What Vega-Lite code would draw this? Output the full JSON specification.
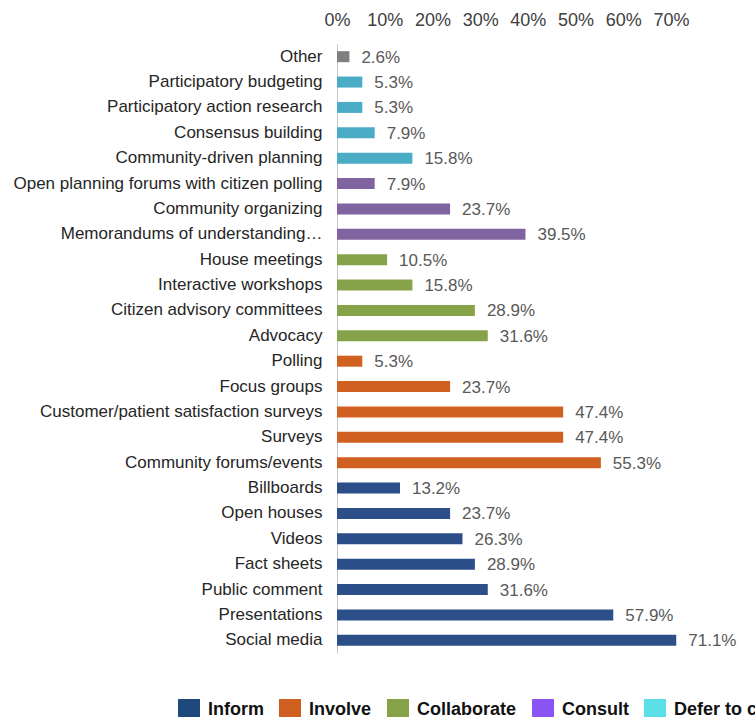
{
  "$schema": "https://vega.github.io/schema/vega-lite/v6.json",
  "width": 334,
  "height": 609,
  "autosize": {"type": "none"},
  "padding": {"left": 337, "top": 44, "right": 84, "bottom": 64},
  "background": "white",
  "config": {
    "view": {"stroke": null},
    "font": "Liberation Sans"
  },
  "data": {
    "values": [
      {"item": "Other", "value": 0.026, "group": "Other"},
      {"item": "Participatory budgeting", "value": 0.053, "group": "Defer to community"},
      {"item": "Participatory action research", "value": 0.053, "group": "Defer to community"},
      {"item": "Consensus building", "value": 0.079, "group": "Defer to community"},
      {"item": "Community-driven planning", "value": 0.158, "group": "Defer to community"},
      {"item": "Open planning forums with citizen polling", "value": 0.079, "group": "Consult"},
      {"item": "Community organizing", "value": 0.237, "group": "Consult"},
      {"item": "Memorandums of understanding…", "value": 0.395, "group": "Consult"},
      {"item": "House meetings", "value": 0.105, "group": "Collaborate"},
      {"item": "Interactive workshops", "value": 0.158, "group": "Collaborate"},
      {"item": "Citizen advisory committees", "value": 0.289, "group": "Collaborate"},
      {"item": "Advocacy", "value": 0.316, "group": "Collaborate"},
      {"item": "Polling", "value": 0.053, "group": "Involve"},
      {"item": "Focus groups", "value": 0.237, "group": "Involve"},
      {"item": "Customer/patient satisfaction surveys", "value": 0.474, "group": "Involve"},
      {"item": "Surveys", "value": 0.474, "group": "Involve"},
      {"item": "Community forums/events", "value": 0.553, "group": "Involve"},
      {"item": "Billboards", "value": 0.132, "group": "Inform"},
      {"item": "Open houses", "value": 0.237, "group": "Inform"},
      {"item": "Videos", "value": 0.263, "group": "Inform"},
      {"item": "Fact sheets", "value": 0.289, "group": "Inform"},
      {"item": "Public comment", "value": 0.316, "group": "Inform"},
      {"item": "Presentations", "value": 0.579, "group": "Inform"},
      {"item": "Social media", "value": 0.711, "group": "Inform"}
    ]
  },
  "encoding": {
    "y": {
      "field": "item",
      "type": "nominal",
      "sort": null,
      "title": null,
      "axis": {
        "ticks": false,
        "tickSize": 0,
        "labelPadding": 15,
        "labelFontSize": 17,
        "labelColor": "#262626",
        "labelLimit": 340,
        "domainColor": "#c8c8c8",
        "domainWidth": 1,
        "grid": false
      }
    },
    "x": {
      "field": "value",
      "type": "quantitative",
      "scale": {"domain": [0, 0.7], "nice": false},
      "title": null,
      "axis": {
        "orient": "top",
        "format": ".0%",
        "values": [0, 0.1, 0.2, 0.3, 0.4, 0.5, 0.6, 0.7],
        "ticks": false,
        "tickSize": 0,
        "domain": false,
        "grid": false,
        "labelPadding": 15,
        "labelFontSize": 18,
        "labelColor": "#404040",
        "labelFlush": false,
        "labelOverlap": false
      }
    }
  },
  "layer": [
    {
      "mark": {"type": "bar", "size": 11},
      "encoding": {
        "color": {
          "field": "group",
          "type": "nominal",
          "scale": {
            "domain": ["Inform", "Involve", "Collaborate", "Consult", "Defer to community", "Other"],
            "range": ["#2c4f8a", "#d0601f", "#86a34a", "#8064a2", "#4bacc6", "#7f7f7f"]
          },
          "legend": null
        }
      }
    },
    {
      "mark": {"type": "text", "align": "left", "baseline": "middle", "dx": 12, "dy": 1, "fontSize": 17, "color": "#595959"},
      "encoding": {
        "text": {"field": "value", "type": "quantitative", "format": ".1%"}
      }
    },
    {
      "mark": {"type": "square", "opacity": 0},
      "encoding": {
        "color": {
          "field": "group",
          "type": "nominal",
          "scale": {
            "domain": ["Inform", "Involve", "Collaborate", "Consult", "Defer to community"],
            "range": ["#1f497d", "#d0601f", "#86a34a", "#8b55f5", "#5ce0e8"]
          },
          "legend": {
            "title": null,
            "orient": "none",
            "legendX": -159,
            "legendY": 655,
            "direction": "horizontal",
            "values": ["Inform", "Involve", "Collaborate", "Consult", "Defer to community"],
            "symbolType": "square",
            "symbolSize": 484,
            "symbolStrokeWidth": 0,
            "symbolOpacity": 1,
            "labelFontSize": 18,
            "labelFontWeight": "bold",
            "labelColor": "#111111",
            "labelOffset": 8,
            "labelLimit": 300,
            "columnPadding": 15,
            "padding": 0,
            "encode": {"symbols": {"update": {"opacity": {"value": 1}, "fillOpacity": {"value": 1}}}}
          }
        }
      }
    }
  ],
  "resolve": {"scale": {"color": "independent"}}
}
